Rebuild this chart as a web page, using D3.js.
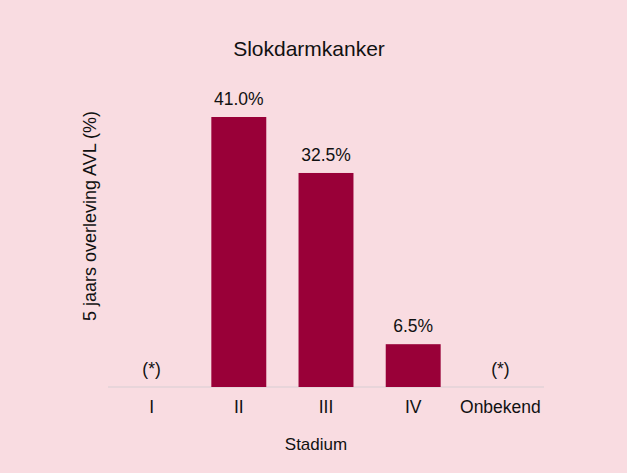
<!DOCTYPE html>
<html>
<head>
<meta charset="utf-8">
<script src="https://cdn.jsdelivr.net/npm/d3@7"></script>
<style>
  body { margin: 0; background: #ffffff; }
  text { font-family: "Liberation Sans", Arial, sans-serif; fill: #111; }
</style>
</head>
<body>
<div id="chart"></div>
<script>
// categories and values (null = not reported, shown as "(*)")
var categories = ["I", "II", "III", "IV", "Onbekend"]
var values = [null, 41.0, 32.5, 6.5, null]

var width = 630
var height = 473
var margin = {top: 60, right: 86, bottom: 86, left: 108}

var svg = d3.select('#chart').append('svg')
            .attr('width', width)
            .attr('height', height)

svg.append('rect')
   .attr('x', 0).attr('y', 0)
   .attr('width', 627).attr('height', height)
   .attr('fill', '#f9dce1')

var x = d3.scaleBand()
          .domain(categories)
          .range([margin.left, width - margin.right])
          .paddingInner(0.37)
          .paddingOuter(0.185)

var y = d3.scaleLinear()
          .domain([0, 41])
          .range([387, 117])

// baseline
svg.append('line')
   .attr('x1', margin.left).attr('x2', width - margin.right)
   .attr('y1', y(0)).attr('y2', y(0))
   .attr('stroke', '#e2d3d7')
   .attr('stroke-width', 1.5)

var data = categories.map(function(c, i) { return {name: c, value: values[i]} })

svg.selectAll('.bar')
   .data(data.filter(function(d) { return d.value !== null }))
   .enter().append('rect')
   .attr('class', 'bar')
   .attr('x', function(d) { return x(d.name) })
   .attr('width', x.bandwidth())
   .attr('y', function(d) { return y(d.value) })
   .attr('height', function(d) { return y(0) - y(d.value) })
   .attr('fill', '#990038')

svg.selectAll('.val')
   .data(data)
   .enter().append('text')
   .attr('class', 'val')
   .attr('text-anchor', 'middle')
   .attr('font-size', 17.5)
   .attr('x', function(d) { return x(d.name) + x.bandwidth() / 2 })
   .attr('y', function(d) { return (d.value === null ? y(0) : y(d.value)) - 12 })
   .text(function(d) { return d.value === null ? '(*)' : d.value.toFixed(1) + '%' })

// category labels
svg.append('g')
   .attr('transform', 'translate(0,' + y(0) + ')')
   .call(d3.axisBottom(x).tickSize(0).tickPadding(14))
   .call(function(g) { g.select('.domain').remove() })
   .selectAll('text')
   .attr('font-size', 17.5)
   .style('font-family', '"Liberation Sans", Arial, sans-serif')
   .attr('fill', '#111')

svg.append('text')
   .attr('x', 309).attr('y', 56)
   .attr('text-anchor', 'middle')
   .attr('font-size', 21)
   .text('Slokdarmkanker')

svg.append('text')
   .attr('x', 316).attr('y', 450)
   .attr('text-anchor', 'middle')
   .attr('font-size', 17)
   .text('Stadium')

svg.append('text')
   .attr('transform', 'translate(96,' + 216 + ') rotate(-90)')
   .attr('text-anchor', 'middle')
   .attr('font-size', 18)
   .text('5 jaars overleving AVL (%)')
</script>
</body>
</html>
